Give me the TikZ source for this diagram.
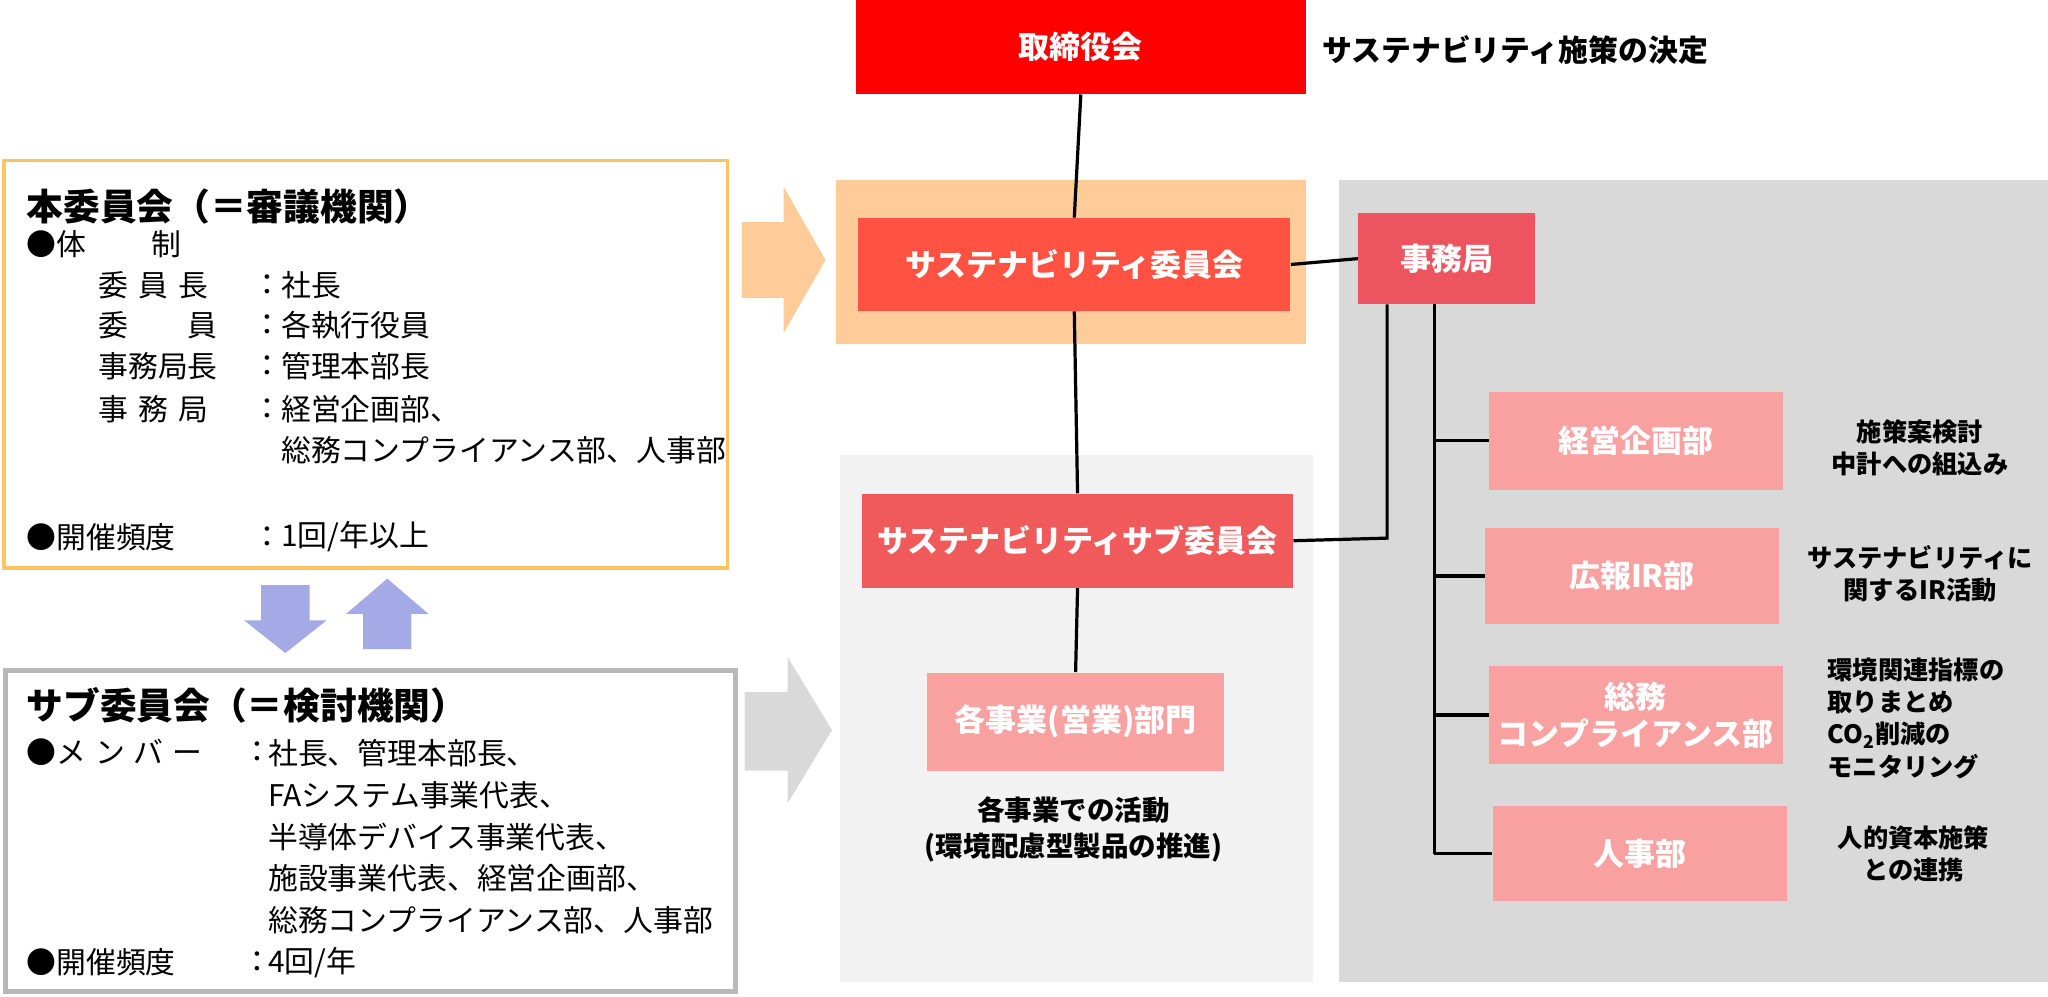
\documentclass[tikz,border=0pt]{standalone}
\usepackage{fontspec}
\setmainfont{Noto Sans CJK JP}
\usetikzlibrary{positioning}
\definecolor{bdred}{HTML}{FF0000}
\definecolor{cmred}{HTML}{FF5242}
\definecolor{subred}{HTML}{F05A5A}
\definecolor{offred}{HTML}{EC5560}
\definecolor{dept}{HTML}{F9A0A0}
\definecolor{peach}{HTML}{FFCC99}
\definecolor{frameor}{HTML}{FFC462}
\definecolor{arblue}{HTML}{A4AAE6}
\tikzstyle{bx}=[draw=none,text=white,font=\bfseries\fontsize{13.5}{16}\selectfont,align=center,inner sep=1pt]
\tikzstyle{note}=[font=\bfseries\fontsize{11}{14}\selectfont,align=center]
\tikzstyle{lbl}=[anchor=west,font=\fontsize{13}{15}\selectfont,inner sep=0pt]
\tikzstyle{ttl}=[anchor=west,font=\bfseries\fontsize{16}{18}\selectfont,inner sep=0pt]
\tikzstyle{ln}=[line width=1.4pt]
\begin{document}
\begin{tikzpicture}[x=0.02cm,y=-0.02cm]
\useasboundingbox (0,0) rectangle (1568,763);
% backgrounds
\fill[peach] (640,138) rectangle (1000,263);
\fill[black!15] (1025,138) rectangle (1568,752);
\fill[black!5] (643,348) rectangle (1005,752);
% boxes
\node[bx,fill=bdred,minimum width=6.9cm,minimum height=1.44cm] (board) at (827.5,36) {取締役会};
\node[note,font=\bfseries\fontsize{13}{15}\selectfont] (decide) at (1160,38) {サステナビリティ施策の決定};
\node[bx,fill=cmred,minimum width=6.62cm,minimum height=1.42cm] (comm) at (822.5,202.5) {サステナビリティ委員会};
\node[bx,fill=offred,minimum width=2.7cm,minimum height=1.4cm] (office) at (1107.5,198) {事務局};
\node[bx,fill=subred,minimum width=6.6cm,minimum height=1.44cm] (sub) at (825,414) {サステナビリティサブ委員会};
\node[bx,fill=dept,minimum width=4.54cm,minimum height=1.5cm] (biz) at (823.5,552.5) {各事業(営業)部門};
\node[note,font=\bfseries\fontsize{12}{16}\selectfont] (bizn) at (822,635) {各事業での活動\\(環境配慮型製品の推進)};
\node[bx,fill=dept,minimum width=4.5cm,minimum height=1.5cm] (plan) at (1252.5,337.5) {経営企画部};
\node[bx,fill=dept,minimum width=4.5cm,minimum height=1.48cm] (pr) at (1249.5,441) {広報IR部};
\node[bx,fill=dept,minimum width=4.5cm,minimum height=1.5cm] (gen) at (1252.5,547.5) {総務\\コンプライアンス部};
\node[bx,fill=dept,minimum width=4.5cm,minimum height=1.46cm] (hr) at (1255.5,653.5) {人事部};
\node[note] (plann) at (1470,343) {施策案検討\\中計への組込み};
\node[note] (prn) at (1470,439) {サステナビリティに\\関するIR活動};
\node[note,align=left,anchor=west] (genn) at (1393,550) {環境関連指標の\\取りまとめ\\CO\textsubscript{2}削減の\\モニタリング};
\node[note] (hrn) at (1465,654) {人的資本施策\\との連携};
% connectors
\draw[ln] (board.south) -- (comm.north);
\draw[ln] (comm.east) -- (office.west);
\draw[ln] (comm.south) -- (sub.north);
\draw[ln] (sub.south) -- (biz.north);
\coordinate (k1) at (1062,233);
\coordinate (k2) at (1062,412);
\draw[ln] (sub.east) -- (k2) -- (k1);
\coordinate (t) at (1098,233);
\coordinate (b) at (1098,653.5);
\draw[ln] (t) -- (b);
\foreach \n in {plan,pr,gen,hr} \draw[ln] (\n.west) -- (\n.west -| t);
% left frames
\draw[frameor,line width=1.6pt] (3,123) rectangle (557,435);
\draw[black!28,line width=2.2pt] (4,513) rectangle (563,759);
% big arrows
\fill[peach] (568,170) -- (600,170) -- (600,143) -- (632,199) -- (600,255) -- (600,228) -- (568,228) -- cycle;
\fill[black!15] (570,530) -- (603,530) -- (603,503) -- (637,559) -- (603,615) -- (603,590) -- (570,590) -- cycle;
\fill[arblue] (200,448) -- (237,448) -- (237,475) -- (250,475) -- (218.5,500) -- (187,475) -- (200,475) -- cycle;
\fill[arblue] (278,497) -- (315,497) -- (315,470) -- (328,470) -- (296.5,443) -- (265,470) -- (278,470) -- cycle;
% upper frame text
\node[ttl] (t1) at (20,158) {本委員会（＝審議機関）};
\node[lbl] (a1) at (20,187) {●体\hspace{2.2em}制};
\node[lbl] (a2) at (75,218) {委\hspace{0.35em}員\hspace{0.35em}長};
\node[lbl] (a3) at (75,249) {委\hspace{2em}員};
\node[lbl] (a4) at (75,280) {事務局長};
\node[lbl] (a5) at (75,313) {事\hspace{0.35em}務\hspace{0.35em}局};
\node[lbl] (a6) at (20,411) {●開催頻度};
\foreach \yy in {218,249,280,313,411} \node[lbl] at (193,\yy) {：};
\node[lbl] (v2) at (215,218) {社長};
\node[lbl] (v3) at (215,249) {各執行役員};
\node[lbl] (v4) at (215,280) {管理本部長};
\node[lbl] (v5) at (215,313) {経営企画部、};
\node[lbl] (v5b) at (215,345) {総務コンプライアンス部、人事部};
\node[lbl] (v6) at (215,411) {1回/年以上};
% lower frame text
\node[ttl] (t2) at (20,540) {サブ委員会（＝検討機関）};
\node[lbl] (b1) at (20,576) {●メ\hspace{0.3em}ン\hspace{0.3em}バ\hspace{0.3em}ー};
\node[lbl] (b6) at (20,737) {●開催頻度};
\foreach \yy in {576,737} \node[lbl] at (185,\yy) {：};
\node[lbl,align=left,font=\fontsize{13}{18.1}\selectfont,anchor=north west] (w1) at (205,566) {社長、管理本部長、\\FAシステム事業代表、\\半導体デバイス事業代表、\\施設事業代表、経営企画部、\\総務コンプライアンス部、人事部};
\node[lbl] (w6) at (205,737) {4回/年};
\end{tikzpicture}
\end{document}
